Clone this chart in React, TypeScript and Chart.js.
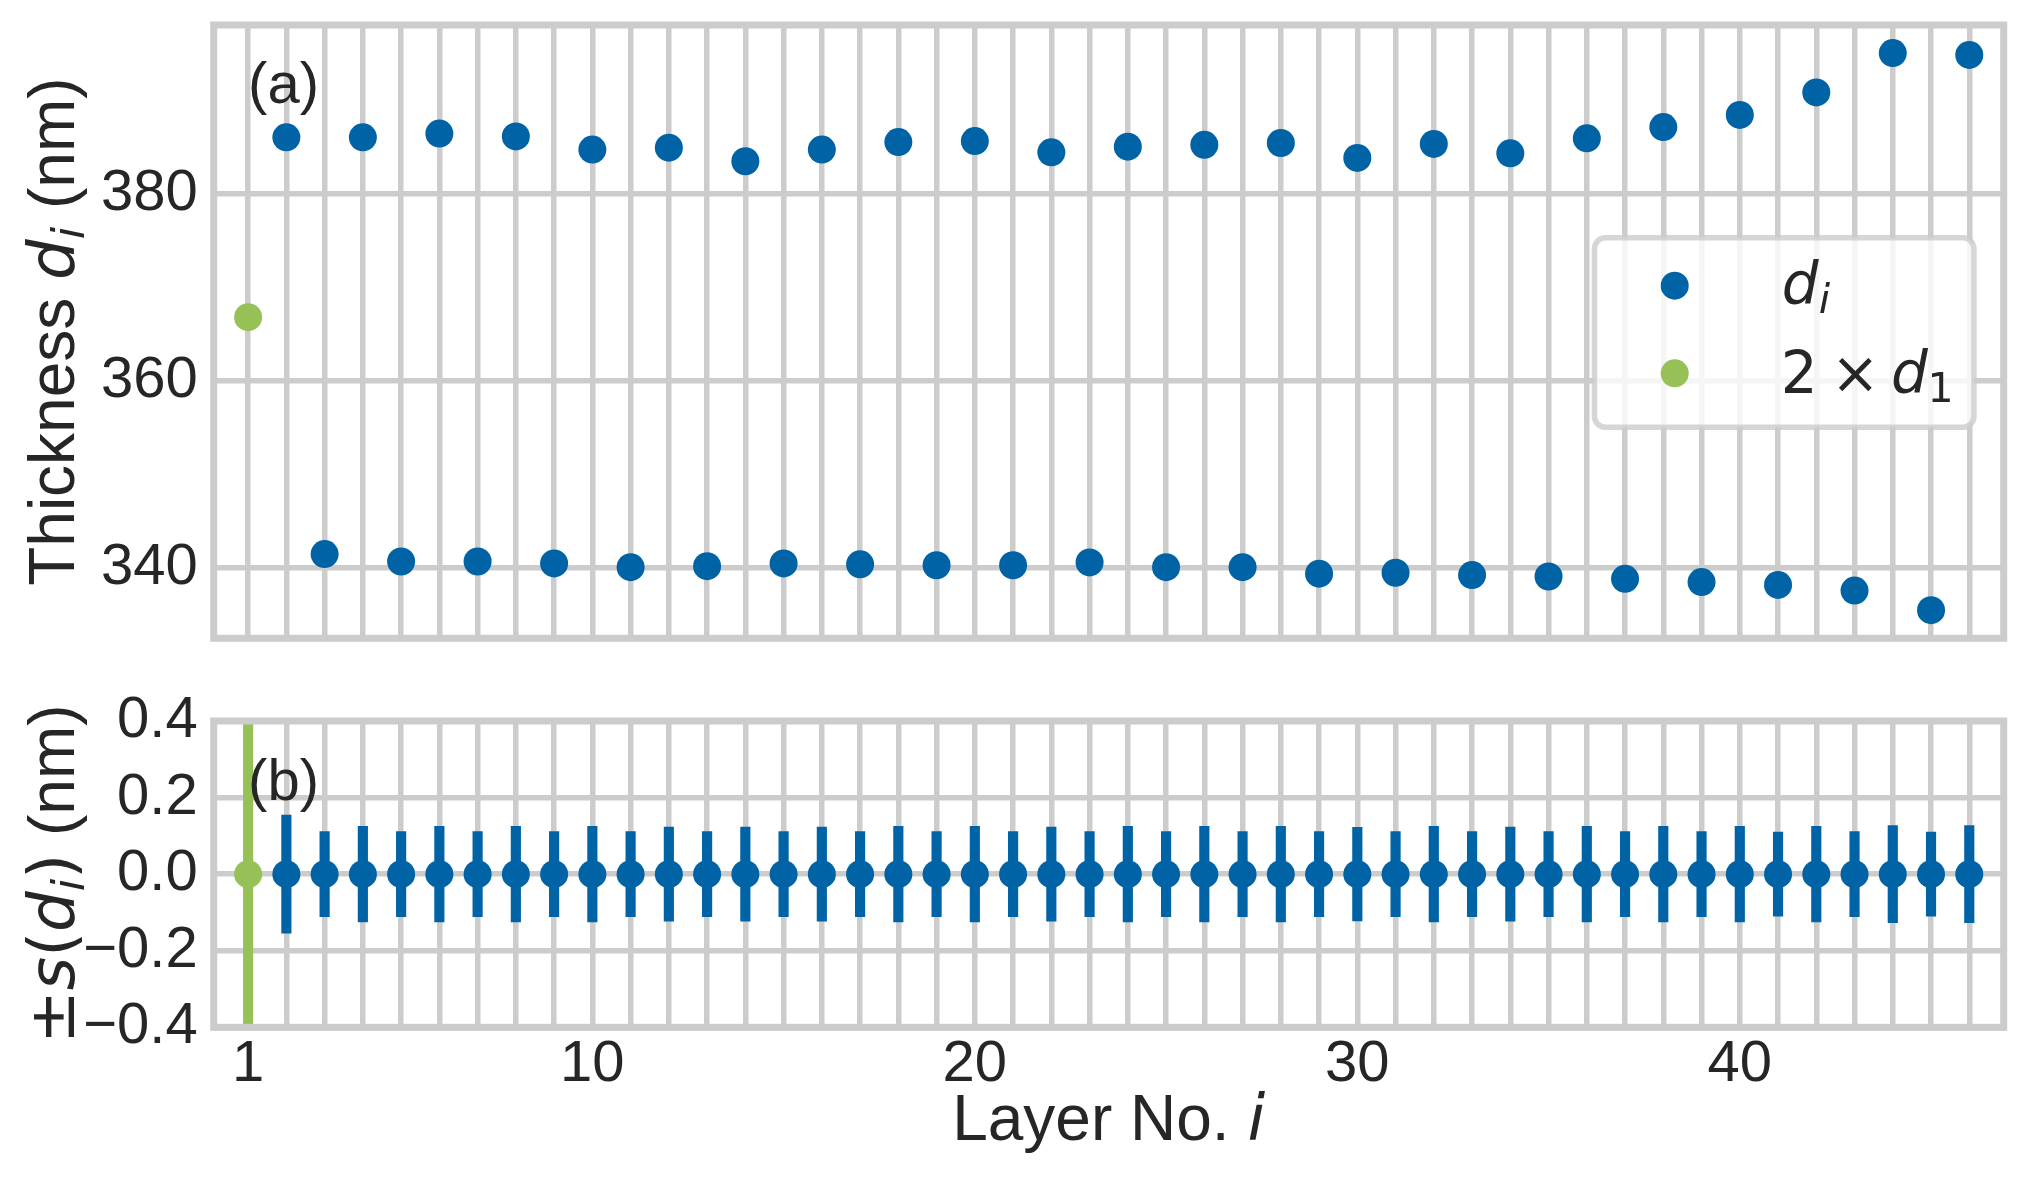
import React, { useEffect, useRef } from 'react';
import { Chart, registerables } from 'chart.js';

Chart.register(...registerables);

// ---------------- data ----------------
const layersBlue = [2, 3, 4, 5, 6, 7, 8, 9, 10, 11, 12, 13, 14, 15, 16, 17, 18, 19, 20, 21, 22, 23, 24, 25, 26, 27, 28, 29, 30, 31, 32, 33, 34, 35, 36, 37, 38, 39, 40, 41, 42, 43, 44, 45, 46];
const thicknessBlue = [
  386.0, 341.5, 386.0, 340.7, 386.4, 340.7, 386.1, 340.5, 384.7, 340.1,
  384.9, 340.2, 383.45, 340.5, 384.7, 340.4, 385.5, 340.3, 385.6, 340.3,
  384.4, 340.6, 385.0, 340.1, 385.2, 340.1, 385.4, 339.4, 383.8, 339.5,
  385.3, 339.25, 384.3, 339.1, 385.9, 338.85, 387.1, 338.5, 388.4, 338.2,
  390.8, 337.6, 395.0, 335.5, 394.8,
];
const sigmaBlue = [
  0.154, 0.111, 0.125, 0.111, 0.125, 0.111, 0.125, 0.111, 0.125, 0.111,
  0.123, 0.111, 0.123, 0.111, 0.123, 0.111, 0.125, 0.111, 0.125, 0.111,
  0.123, 0.111, 0.125, 0.111, 0.125, 0.111, 0.125, 0.111, 0.122, 0.111,
  0.125, 0.111, 0.123, 0.111, 0.125, 0.111, 0.125, 0.111, 0.125, 0.110,
  0.125, 0.111, 0.127, 0.110, 0.127,
];
const layersGreen = [1];
const thicknessGreen = [366.8];
const sigmaGreen = [0.6];
const residualBlue = layersBlue.map(() => 0);
const residualGreen = [0];

const gridLayers = Array.from({ length: 46 }, (_, k) => k + 1);
const xTickLabels = [1, 10, 20, 30, 40];
const topYTicks = [340, 360, 380];
const bottomYTicks = [-0.4, -0.2, 0, 0.2, 0.4];

// ---------------- style ----------------
const BLUE = '#0063A6';
const GREEN = '#95C157';
const GRID = '#cccccc';
const TEXT = '#262626';
const SANS = '"Liberation Sans", Arial, Helvetica, sans-serif';
const DJV = '"DejaVu Sans", sans-serif';
const f = (size: number, fam: string, italic = false) => `${italic ? 'italic ' : ''}${size}px ${fam}`;

const W = 2029;
const TOP_H = 680;
const BOT_H = 501;
const PLOT_LEFT = 213.7;
const PLOT_RIGHT = 2003.7;
const TOP_PLOT_TOP = 25;
const TOP_PLOT_BOTTOM = 638.3;
const BOT_PLOT_TOP = 41;
const BOT_PLOT_BOTTOM = 347.3;
const TICK_FONT = 58;
const LABEL_FONT = 64;

Chart.defaults.font.family = SANS;
Chart.defaults.color = TEXT;

type Seg = { text: string; font: string; dy?: number };

function drawRich(ctx: CanvasRenderingContext2D, segs: Seg[], x: number, y: number, center: boolean) {
  ctx.textAlign = 'left';
  ctx.textBaseline = 'alphabetic';
  const widths = segs.map((s) => {
    ctx.font = s.font;
    return ctx.measureText(s.text).width;
  });
  const total = widths.reduce((a, b) => a + b, 0);
  let cx = center ? x - total / 2 : x;
  segs.forEach((s, i) => {
    ctx.font = s.font;
    ctx.fillText(s.text, cx, y + (s.dy || 0));
    cx += widths[i];
  });
}

function drawAt(ctx: CanvasRenderingContext2D, text: string, font: string, visLeft: number, baseline: number) {
  ctx.font = font;
  ctx.textAlign = 'left';
  ctx.textBaseline = 'alphabetic';
  const m = ctx.measureText(text);
  ctx.fillText(text, visLeft + m.actualBoundingBoxLeft, baseline);
}

function roundRectPath(ctx: CanvasRenderingContext2D, x: number, y: number, w: number, h: number, r: number) {
  ctx.beginPath();
  ctx.moveTo(x + r, y);
  ctx.lineTo(x + w - r, y);
  ctx.arcTo(x + w, y, x + w, y + r, r);
  ctx.lineTo(x + w, y + h - r);
  ctx.arcTo(x + w, y + h, x + w - r, y + h, r);
  ctx.lineTo(x + r, y + h);
  ctx.arcTo(x, y + h, x, y + h - r, r);
  ctx.lineTo(x, y + r);
  ctx.arcTo(x, y, x + r, y, r);
  ctx.closePath();
}

const framePlugin = {
  id: 'frame',
  afterDatasetsDraw(chart: any) {
    const { ctx, chartArea: a } = chart;
    ctx.save();
    ctx.strokeStyle = GRID;
    ctx.lineWidth = 7;
    ctx.strokeRect(a.left, a.top, a.right - a.left, a.bottom - a.top);
    ctx.restore();
  },
};

function rotatedTitle(ctx: CanvasRenderingContext2D, segs: Seg[], baselineX: number, centerY: number) {
  ctx.save();
  ctx.translate(baselineX, centerY);
  ctx.rotate(-Math.PI / 2);
  ctx.fillStyle = TEXT;
  drawRich(ctx, segs, 0, 0, true);
  ctx.restore();
}

const topAnnotations = {
  id: 'topAnnotations',
  afterDraw(chart: any) {
    const { ctx, chartArea: a, scales } = chart;
    ctx.save();
    ctx.fillStyle = TEXT;
    // (a)
    ctx.font = f(TICK_FONT, SANS);
    ctx.textAlign = 'left';
    ctx.textBaseline = 'alphabetic';
    ctx.fillText('(a)', scales.x.getPixelForValue(1), scales.y.getPixelForValue(389.67));
    // y title
    rotatedTitle(ctx, [
      { text: 'Thickness ', font: f(LABEL_FONT, SANS) },
      { text: 'd', font: f(LABEL_FONT, DJV, true) },
      { text: 'i', font: f(45, DJV, true), dy: 9.5 },
      { text: ' (nm)', font: f(LABEL_FONT, SANS) },
    ], 74, (a.top + a.bottom) / 2);

    // legend
    const boxW = 385;
    const boxH = 195;
    const boxRight = a.right - 27;
    const boxLeft = boxRight - boxW;
    const boxTop = (a.top + a.bottom) / 2 + 0.85 - boxH / 2;
    const lw = 5.5;
    roundRectPath(ctx, boxLeft + lw / 2, boxTop + lw / 2, boxW - lw, boxH - lw, 11);
    ctx.fillStyle = 'rgba(255,255,255,0.8)';
    ctx.fill();
    ctx.strokeStyle = 'rgba(204,204,204,0.8)';
    ctx.lineWidth = lw;
    ctx.stroke();

    ctx.fillStyle = BLUE;
    ctx.beginPath();
    ctx.arc(boxLeft + 83, boxTop + 50.7, 14, 0, Math.PI * 2);
    ctx.fill();
    ctx.fillStyle = GREEN;
    ctx.beginPath();
    ctx.arc(boxLeft + 83, boxTop + 138.3, 14, 0, Math.PI * 2);
    ctx.fill();

    ctx.fillStyle = TEXT;
    drawAt(ctx, 'd', f(58, DJV, true), boxLeft + 192, boxTop + 69);
    drawAt(ctx, 'i', f(41, DJV, true), boxLeft + 228, boxTop + 78);
    drawAt(ctx, '2', f(58, DJV), boxLeft + 193, boxTop + 158.3);
    drawAt(ctx, '\u00d7', f(58, DJV), boxLeft + 246.3, boxTop + 158.3);
    drawAt(ctx, 'd', f(58, DJV, true), boxLeft + 301.3, boxTop + 158.3);
    drawAt(ctx, '1', f(41, DJV), boxLeft + 339.7, boxTop + 166.7);
    ctx.restore();
  },
};

const bottomAnnotations = {
  id: 'bottomAnnotations',
  afterDraw(chart: any) {
    const { ctx, chartArea: a, scales } = chart;
    ctx.save();
    ctx.fillStyle = TEXT;
    ctx.font = f(TICK_FONT, SANS);
    ctx.textAlign = 'left';
    ctx.textBaseline = 'alphabetic';
    ctx.fillText('(b)', scales.x.getPixelForValue(1), scales.y.getPixelForValue(0.194));
    rotatedTitle(ctx, [
      { text: '\u00b1', font: f(LABEL_FONT, DJV) },
      { text: 's', font: f(LABEL_FONT, DJV, true) },
      { text: '(', font: f(LABEL_FONT, DJV) },
      { text: 'd', font: f(LABEL_FONT, DJV, true) },
      { text: 'i', font: f(45, DJV, true), dy: 9.5 },
      { text: ')', font: f(LABEL_FONT, DJV) },
      { text: ' (nm)', font: f(LABEL_FONT, SANS) },
    ], 74, (a.top + a.bottom) / 2);
    ctx.fillStyle = TEXT;
    drawRich(ctx, [
      { text: 'Layer No. ', font: f(LABEL_FONT, SANS) },
      { text: 'i', font: f(LABEL_FONT, DJV, true) },
    ], (a.left + a.right) / 2, 460, true);
    ctx.restore();
  },
};

function xScaleOptions(showLabels: boolean, height: number) {
  return {
    type: 'linear',
    position: 'bottom',
    min: 0.1,
    max: 46.9,
    offset: false,
    afterBuildTicks: (s: any) => {
      s.ticks = gridLayers.map((v) => ({ value: v }));
    },
    afterFit: (s: any) => {
      s.height = height;
      s.paddingLeft = 0;
      s.paddingRight = 0;
      s.paddingTop = 0;
      s.paddingBottom = 0;
    },
    grid: { color: GRID, lineWidth: 5.5, drawTicks: false, offset: false },
    border: { display: false },
    ticks: {
      display: showLabels,
      autoSkip: false,
      maxRotation: 0,
      minRotation: 0,
      padding: 3,
      color: TEXT,
      font: { size: TICK_FONT, family: SANS },
      callback: (v: any) => (xTickLabels.includes(Number(v)) ? String(v) : ''),
    },
  };
}

function yScaleOptions(min: number, max: number, ticks: number[], fmt: (v: number) => string) {
  return {
    type: 'linear',
    position: 'left',
    min,
    max,
    afterBuildTicks: (s: any) => {
      s.ticks = ticks.map((v) => ({ value: v }));
    },
    afterFit: (s: any) => {
      s.width = PLOT_LEFT;
      s.paddingLeft = 0;
      s.paddingRight = 0;
      s.paddingTop = 0;
      s.paddingBottom = 0;
    },
    grid: { color: GRID, lineWidth: 5.5, drawTicks: false },
    border: { display: false },
    ticks: {
      padding: 16,
      color: TEXT,
      font: { size: TICK_FONT, family: SANS },
      callback: (v: any) => fmt(Number(v)),
    },
  };
}

export default function App() {
  const topRef = useRef<HTMLCanvasElement>(null);
  const botRef = useRef<HTMLCanvasElement>(null);

  useEffect(() => {
    const common = {
      responsive: false,
      animation: false,
      events: [],
      plugins: { legend: { display: false }, tooltip: { enabled: false } },
    };

    const top = new Chart(topRef.current as HTMLCanvasElement, {
      type: 'scatter',
      data: {
        datasets: [
          {
            label: 'd_i',
            data: layersBlue.map((x, k) => ({ x, y: thicknessBlue[k] })),
            backgroundColor: BLUE,
            borderColor: BLUE,
            pointRadius: 14,
            pointHoverRadius: 14,
            pointBorderWidth: 0,
          },
          {
            label: '2 x d_1',
            data: layersGreen.map((x, k) => ({ x, y: thicknessGreen[k] })),
            backgroundColor: GREEN,
            borderColor: GREEN,
            pointRadius: 14,
            pointHoverRadius: 14,
            pointBorderWidth: 0,
          },
        ],
      },
      options: {
        ...common,
        layout: { padding: { top: TOP_PLOT_TOP, right: W - PLOT_RIGHT, bottom: 0, left: 0 } },
        scales: {
          x: xScaleOptions(false, TOP_H - TOP_PLOT_BOTTOM),
          y: yScaleOptions(332.5, 398.0, topYTicks, (v) => String(Math.round(v))),
        },
      } as any,
      plugins: [framePlugin, topAnnotations],
    } as any);

    const fmtSmall = (v: number) => (v < -1e-9 ? '\u2212' : '') + Math.abs(v).toFixed(1);
    const bot = new Chart(botRef.current as HTMLCanvasElement, {
      type: 'scatter',
      data: {
        datasets: [
          {
            type: 'scatter',
            data: layersBlue.map((x, k) => ({ x, y: residualBlue[k] })),
            backgroundColor: BLUE,
            borderColor: BLUE,
            pointRadius: 14,
            pointHoverRadius: 14,
            pointBorderWidth: 0,
          },
          {
            type: 'scatter',
            data: layersGreen.map((x, k) => ({ x, y: residualGreen[k] })),
            backgroundColor: GREEN,
            borderColor: GREEN,
            pointRadius: 14,
            pointHoverRadius: 14,
            pointBorderWidth: 0,
          },
          {
            type: 'bar',
            data: [
              ...layersGreen.map((x, k) => ({ x, y: [-sigmaGreen[k], sigmaGreen[k]] })),
              ...layersBlue.map((x, k) => ({ x, y: [-sigmaBlue[k], sigmaBlue[k]] })),
            ],
            backgroundColor: [...layersGreen.map(() => GREEN), ...layersBlue.map(() => BLUE)],
            borderWidth: 0,
            barThickness: 9.5,
            clip: 0,
          },
        ],
      },
      options: {
        ...common,
        layout: { padding: { top: BOT_PLOT_TOP, right: W - PLOT_RIGHT, bottom: 0, left: 0 } },
        scales: {
          x: xScaleOptions(true, BOT_H - BOT_PLOT_BOTTOM),
          y: yScaleOptions(-0.4, 0.4, bottomYTicks, fmtSmall),
        },
      } as any,
      plugins: [framePlugin, bottomAnnotations],
    } as any);

    return () => {
      top.destroy();
      bot.destroy();
    };
  }, []);

  return (
    <div style={{ position: 'absolute', left: 0, top: 0, width: W, height: TOP_H + BOT_H, background: '#ffffff', overflow: 'hidden' }}>
      <canvas ref={topRef} width={W} height={TOP_H} style={{ position: 'absolute', left: 0, top: 0, width: W, height: TOP_H }} />
      <canvas ref={botRef} width={W} height={BOT_H} style={{ position: 'absolute', left: 0, top: TOP_H, width: W, height: BOT_H }} />
    </div>
  );
}
